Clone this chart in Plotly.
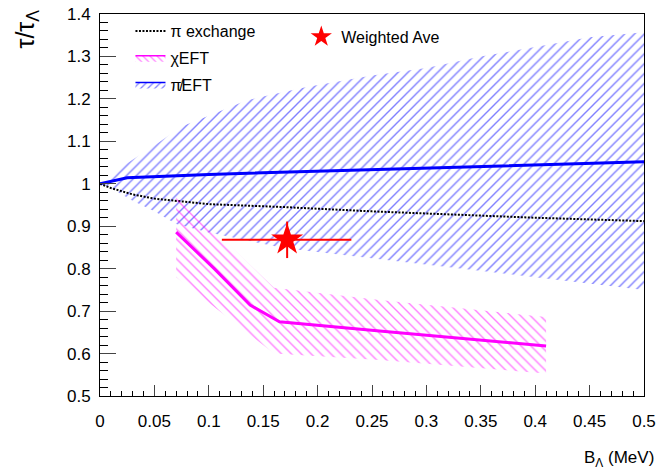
import plotly.graph_objects as go

# pi-less EFT band (blue)
pieft_x_up = [0.0, 0.02, 0.05, 0.075, 0.1, 0.135, 0.19, 0.25, 0.3, 0.35, 0.4, 0.45, 0.5]
pieft_up = [1.0, 1.04, 1.09, 1.135, 1.16, 1.197, 1.228, 1.255, 1.273, 1.30, 1.322, 1.345, 1.357]
pieft_x_lo = [0.0, 0.01, 0.03, 0.05, 0.07, 0.1, 0.17, 0.25, 0.3, 0.4, 0.5]
pieft_lo = [1.0, 0.99, 0.96, 0.935, 0.905, 0.885, 0.848, 0.825, 0.81, 0.78, 0.75]
pieft_cx = [0.0, 0.025, 0.1, 0.184, 0.3, 0.4, 0.5]
pieft_c = [1.0, 1.014, 1.022, 1.028, 1.037, 1.045, 1.052]

# pi exchange (dotted)
piex_x = [0.0, 0.01, 0.03, 0.05, 0.1, 0.17, 0.25, 0.3, 0.4, 0.5]
piex_y = [1.0, 0.99, 0.975, 0.965, 0.952, 0.945, 0.935, 0.93, 0.92, 0.912]

# chi EFT band (magenta)
chi_x_up = [0.07, 0.16, 0.257, 0.41]
chi_up = [0.976, 0.755, 0.726, 0.686]
chi_x_lo = [0.07, 0.16, 0.257, 0.41]
chi_lo = [0.78, 0.60, 0.585, 0.553]
chi_cx = [0.07, 0.105, 0.138, 0.165, 0.257, 0.41]
chi_c = [0.886, 0.80, 0.714, 0.675, 0.653, 0.618]

# Weighted average
wa_x = [0.172]
wa_y = [0.868]
wa_xerr_lo = [0.06]
wa_xerr_hi = [0.059]
wa_yerr = [0.043]

FONT = "Liberation Sans, Arial, sans-serif"
BLUE = "#0000ff"
MAG = "#ff00ff"

fig = go.Figure()

# blue band
fig.add_trace(go.Scatter(
    x=pieft_x_up + pieft_x_lo[::-1], y=pieft_up + pieft_lo[::-1],
    fill="toself", mode="lines", line=dict(width=0, color=BLUE),
    fillcolor="rgba(0,0,0,0)",
    fillpattern=dict(shape="/", fgcolor=BLUE, bgcolor="rgba(0,0,0,0)", size=7, solidity=0.2),
    showlegend=False, hoverinfo="skip"))
fig.add_trace(go.Scatter(x=pieft_cx, y=pieft_c, mode="lines",
                         line=dict(color=BLUE, width=3), showlegend=False))
# dotted pi exchange
fig.add_trace(go.Scatter(x=piex_x, y=piex_y, mode="lines",
                         line=dict(color="black", width=2, dash="2px,1.5px"),
                         name="π exchange", legendgroup="a", legendrank=1))
# magenta band
fig.add_trace(go.Scatter(
    x=chi_x_up + chi_x_lo[::-1], y=chi_up + chi_lo[::-1],
    fill="toself", mode="lines", line=dict(width=0, color=MAG),
    fillcolor="rgba(0,0,0,0)",
    fillpattern=dict(shape="\\", fgcolor=MAG, bgcolor="rgba(0,0,0,0)", size=7, solidity=0.2),
    showlegend=False, hoverinfo="skip"))
fig.add_trace(go.Scatter(x=chi_cx, y=chi_c, mode="lines",
                         line=dict(color=MAG, width=3), showlegend=False))

# legend-only entries for the bands
fig.add_trace(go.Scatter(x=[None], y=[None], mode="lines", fill="toself",
                         fillcolor="rgba(0,0,0,0)",
                         fillpattern=dict(shape="\\", fgcolor=MAG, bgcolor="rgba(0,0,0,0)", size=5, solidity=0.25),
                         line=dict(color=MAG, width=1.5), name="χEFT", legendgroup="b", legendrank=2))
fig.add_trace(go.Scatter(x=[None], y=[None], mode="lines", fill="toself",
                         fillcolor="rgba(0,0,0,0)",
                         fillpattern=dict(shape="/", fgcolor=BLUE, bgcolor="rgba(0,0,0,0)", size=5, solidity=0.25),
                         line=dict(color=BLUE, width=1.5), name="π\u0338EFT", legendgroup="c", legendrank=3))

# weighted average
fig.add_trace(go.Scatter(
    x=wa_x, y=wa_y, mode="markers",
    marker=dict(symbol="star", size=24, color="red", line=dict(width=0)),
    error_x=dict(type="data", symmetric=False, array=wa_xerr_hi, arrayminus=wa_xerr_lo,
                 color="red", thickness=2, width=0),
    error_y=dict(type="data", array=wa_yerr, color="red", thickness=2, width=0),
    name="Weighted Ave", legend="legend2"))

axis_common = dict(showline=True, linecolor="black", linewidth=1, mirror=True,
                   ticks="inside", showgrid=False, zeroline=False, automargin=False,
                   ticklabeloverflow="allow",
                   tickfont=dict(family=FONT, size=17, color="black"))

fig.update_xaxes(range=[0, 0.5], tick0=0, dtick=0.05, ticklen=11, ticklabelstandoff=10,
                 minor=dict(dtick=0.01, ticklen=5, ticks="inside", tickcolor="black"),
                 tickformat="~g", **axis_common)
fig.update_yaxes(range=[0.5, 1.4], tick0=0.5, dtick=0.1, ticklen=16, ticklabelstandoff=5,
                 minor=dict(dtick=0.02, ticklen=8, ticks="inside", tickcolor="black"),
                 tickformat="~g", **axis_common)

fig.update_layout(
    width=658, height=469,
    margin=dict(l=100, r=14, t=14, b=73, autoexpand=False),
    paper_bgcolor="white", plot_bgcolor="white",
    font=dict(family=FONT, color="black"),
    legend=dict(x=0.056, y=1.0, xanchor="left", yanchor="top",
                bgcolor="rgba(0,0,0,0)", font=dict(size=16, family=FONT),
                traceorder="grouped", tracegroupgap=3, itemwidth=30),
    legend2=dict(x=0.37, y=0.985, xanchor="left", yanchor="top",
                 bgcolor="rgba(0,0,0,0)", font=dict(size=16, family=FONT), itemwidth=30),
    annotations=[
        dict(text="τ/τ<sub>Λ</sub>", textangle=-90, x=0, y=1, xref="paper", yref="paper",
             xshift=-74, yshift=6, xanchor="center", yanchor="top", showarrow=False,
             font=dict(size=25, family=FONT, color="black")),
        dict(text="B<sub>Λ</sub> (MeV)", x=1, y=0, xref="paper", yref="paper",
             xshift=12, yshift=-50, xanchor="right", yanchor="top", showarrow=False,
             font=dict(size=17, family=FONT, color="black")),
    ],
)

fig.write_html("out.html", config={"displayModeBar": False},
               post_script="document.body.style.margin='0';document.body.style.overflow='hidden';")
